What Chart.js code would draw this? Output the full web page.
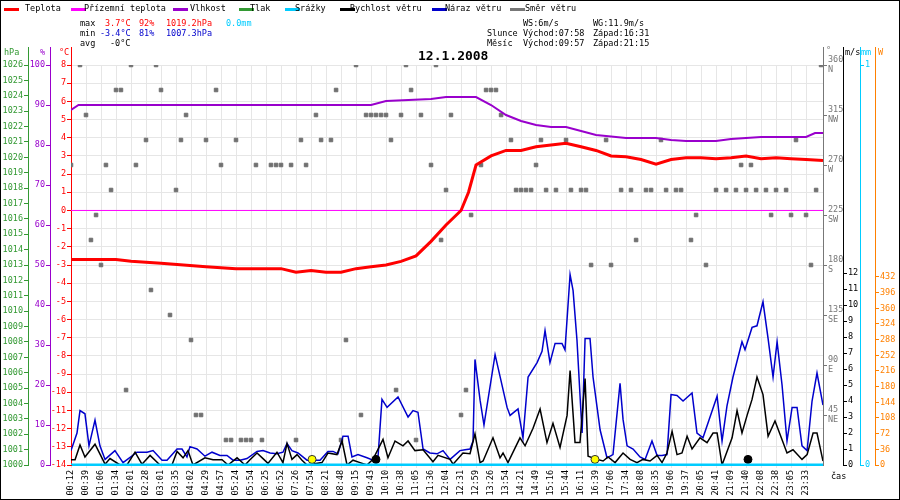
<!DOCTYPE html>
<html lang="cs">
<head>
<meta charset="UTF-8">
<title>12.1.2008</title>
<style>
  body { margin: 0; background: #fff; }
  canvas { display: block; }
</style>
</head>
<body>
<canvas id="chart" width="900" height="500"></canvas>
<script src="https://cdn.jsdelivr.net/npm/chart.js"></script>
<script>
// time labels under the x axis (one per sample slot)
const timeLabels = ["00:12","00:39","01:06","01:34","02:01","02:28","03:01","03:35","04:02","04:29",
  "04:57","05:24","05:54","06:25","06:52","07:26","07:54","08:21","08:48","09:15",
  "09:43","10:10","10:38","11:05","11:36","12:04","12:31","12:59","13:26","13:54",
  "14:21","14:49","15:16","15:44","16:11","16:39","17:06","17:34","18:08","18:35",
  "19:06","19:37","20:05","20:41","21:09","21:40","22:08","22:38","23:05","23:33"];
const lastSlot = 50.13;

// [slot, °C]
const temperature = [[0,-2.7],[3,-2.7],[4,-2.8],[5,-2.85],[6,-2.9],[9,-3.1],[11,-3.2],[14,-3.2],[15,-3.4],
  [16,-3.3],[17,-3.4],[18,-3.4],[19,-3.2],[20,-3.1],[21,-3.0],[22,-2.8],[23,-2.5],[24,-1.7],[25,-0.8],
  [26,0.0],[26.5,1.0],[27,2.5],[28,3.0],[29,3.3],[30,3.3],[31,3.5],[32,3.6],[33,3.7],[34,3.5],[35,3.3],
  [36,3.0],[37,2.95],[38,2.8],[39,2.55],[40,2.8],[41,2.9],[42,2.9],[43,2.85],[44,2.9],[45,3.0],[46,2.85],
  [47,2.9],[48,2.85],[49,2.8],[50.13,2.75]];
const apparentTemp = [[0,0],[50.13,0]];
// [slot, %]
const humidity = [[0,88.75],[0.5,90],[20,90],[21,91],[24,91.5],[25,92],[27,92],[28,90],[29,87.5],[30,86],
  [31,85],[32,84.5],[33,84.5],[34,83.5],[35,82.5],[37,81.75],[39,81.75],[40,81.25],[41,81],[43,81],
  [44,81.5],[46,82],[49,82],[49.6,83],[50.13,83]];
const precipitation = [[0,0],[50.13,0]];
// [slot, m/s]
const windSpeed = [[0,0.33],[0.27,0.33],[0.6,1.25],[0.93,0.5],[1.6,1.3],[2.27,0.05],[2.6,0.4],[3.27,0],[3.73,0],
  [4.27,0.8],[4.73,0.05],[5.27,0.6],[5.93,0],[6.73,0],[7.07,0.85],[7.47,0.45],[7.8,0.9],[8.13,0],[8.93,0.45],
  [9.47,0.33],[10.07,0.33],[10.47,0],[11.07,0.45],[11.6,0],[11.93,0.33],[12.4,0.75],[12.8,0.4],[13.13,0.1],
  [13.73,0.8],[14.13,0.15],[14.4,1.35],[14.73,0.35],[15.07,0.65],[15.4,0.3],[15.73,0],[16.73,0.15],[17.13,0.75],
  [17.73,0.65],[18.07,1.5],[18.4,0],[18.8,0.3],[19.27,0.15],[19.73,0],[20.13,0.35],[20.8,1.6],[21.13,0.45],
  [21.6,1.5],[22.13,1.2],[22.47,1.5],[22.93,0.9],[23.47,0.95],[24.13,0.2],[24.47,0.6],[25.27,0.35],[25.47,0.05],
  [26.13,0.75],[26.6,0.7],[26.93,1.95],[27.27,0.15],[27.47,0.25],[28.13,1.7],[28.6,0.45],[28.8,0.75],[29.13,0.15],
  [29.93,1.7],[30.27,1.2],[30.8,2.3],[31.27,3.5],[31.73,1.4],[32.13,2.6],[32.6,1.1],[33.07,3.1],[33.27,5.9],
  [33.6,1.4],[33.93,1.4],[34.27,5.4],[34.47,0.55],[35.07,0.35],[35.47,0.25],[35.8,0.5],[36.27,0.15],[36.8,0.75],
  [37.27,0.35],[37.73,0.15],[38.13,0.35],[38.6,0.25],[39.07,0.6],[39.4,0.15],[39.73,0.75],[40.07,2.1],[40.4,0.65],
  [40.73,0.75],[41.07,1.8],[41.4,1.0],[41.93,1.7],[42.4,1.4],[42.8,2.0],[43.07,2.0],[43.4,0],[44.07,1.7],
  [44.4,3.4],[44.73,2.0],[45.07,3.1],[45.4,4.1],[45.73,5.5],[46.13,4.4],[46.47,1.8],[46.93,2.75],[47.27,1.9],
  [47.73,0.75],[48.13,0.95],[48.73,0.35],[49.07,0.65],[49.47,2.0],[49.73,2.0],[50.13,0.25]];
const windGust = [[0,0.9],[0.4,2.0],[0.6,3.4],[0.93,3.2],[1.2,1.2],[1.6,2.8],[1.93,1.2],[2.27,0.35],[2.93,0.9],
  [3.47,0.15],[4.4,0.8],[5.07,0.8],[5.47,0.9],[6.07,0.3],[6.4,0.3],[7.07,1.0],[7.4,1.0],[7.73,0.5],[7.93,1.15],
  [8.4,1.0],[8.93,0.55],[9.4,0.8],[9.93,0.6],[10.4,0.6],[10.8,0.3],[11.27,0.3],[11.73,0.4],[12.4,0.85],[12.8,0.9],
  [13.27,0.75],[13.73,0.7],[14.13,0.8],[14.4,1.35],[14.73,0.9],[15.13,0.75],[15.73,0.3],[16.6,0.3],[17.13,0.85],
  [17.47,0.85],[17.8,0.7],[18.13,1.8],[18.47,1.8],[18.73,0.5],[19.13,0.65],[19.73,0.45],[20.13,0.3],[20.47,0.55],
  [20.73,4.1],[21.07,3.6],[21.8,4.25],[22.47,3.0],[22.8,3.4],[23.13,3.3],[23.47,1.0],[23.93,0.75],[24.4,0.7],
  [24.8,0.9],[25.27,0.35],[25.93,0.9],[26.27,0.95],[26.6,1.0],[26.8,1.5],[26.93,6.6],[27.27,4.05],[27.53,2.5],
  [28.27,6.9],[29.07,3.6],[29.27,3.1],[29.8,3.5],[30.13,1.7],[30.47,5.5],[31.07,6.4],[31.4,7.1],[31.6,8.4],
  [31.93,6.4],[32.27,7.6],[32.73,7.6],[32.93,7.2],[33.27,11.9],[33.47,10.9],[33.73,7.8],[34.07,2.0],[34.27,7.9],
  [34.6,7.9],[34.8,5.5],[35.07,3.6],[35.27,2.2],[35.73,0.45],[36.13,0.65],[36.6,5.1],[36.8,2.85],[37.07,1.2],
  [37.47,1.0],[37.93,0.5],[38.27,0.35],[38.73,1.5],[39.07,0.6],[39.4,0.6],[39.73,0.65],[40,4.4],[40.4,4.35],
  [40.8,4.0],[41.4,4.5],[41.73,2.0],[42.13,1.7],[43.07,4.3],[43.4,1.5],[43.73,3.7],[44.13,5.5],[44.73,7.7],
  [44.93,7.2],[45.4,8.6],[45.73,8.7],[46.13,10.2],[46.47,7.9],[46.8,5.5],[47.07,7.7],[47.4,5.0],[47.73,1.5],
  [48.07,3.6],[48.4,3.6],[48.73,1.2],[49.07,0.9],[49.4,4.0],[49.73,5.75],[50.13,3.75]];
// [slot, degrees]
const windDir = [[0,270],[0.6,360],[1,315],[1.33,202.5],[1.67,225],[2,180],[2.33,270],[2.67,247.5],[3,337.5],
  [3.33,337.5],[3.67,67.5],[4,360],[4.33,270],[5,292.5],[5.33,157.5],[5.67,360],[6,337.5],[6.6,135],[7,247.5],
  [7.33,292.5],[7.67,315],[8,112.5],[8.33,45],[8.67,45],[9,292.5],[9.67,337.5],[10,270],[10.33,22.5],[10.67,22.5],
  [11,292.5],[11.33,22.5],[11.67,22.5],[12,22.5],[12.33,270],[12.73,22.5],[13.33,270],[13.67,270],[14,270],
  [14.67,270],[15,22.5],[15.33,292.5],[15.67,270],[16.33,315],[16.67,292.5],[17.33,292.5],[17.67,337.5],[18,22.5],
  [18.33,112.5],[19,360],[19.33,45],[19.67,315],[20,315],[20.33,315],[20.67,315],[21,315],[21.33,292.5],
  [21.67,67.5],[22,315],[22.33,360],[22.67,337.5],[23,22.5],[23.33,315],[24,270],[24.33,360],[24.67,202.5],
  [25,247.5],[25.33,315],[26,45],[26.33,67.5],[26.67,225],[27.33,270],[27.67,337.5],[28,337.5],[28.33,337.5],
  [28.67,315],[29.33,292.5],[29.67,247.5],[30,247.5],[30.33,247.5],[30.67,247.5],[31,270],[31.33,292.5],
  [31.67,247.5],[32.33,247.5],[33,292.5],[33.33,247.5],[34,247.5],[34.33,247.5],[34.67,180],[35.67,292.5],
  [36,180],[36.67,247.5],[37.33,247.5],[37.67,202.5],[38.33,247.5],[38.67,247.5],[39.33,292.5],[39.67,247.5],
  [40.33,247.5],[40.67,247.5],[41.33,202.5],[41.67,225],[42.33,180],[43,247.5],[43.67,247.5],[44.33,247.5],
  [44.67,270],[45,247.5],[45.33,270],[45.67,247.5],[46.33,247.5],[46.67,225],[47,247.5],[47.67,247.5],[48,225],
  [48.33,292.5],[49,225],[49.33,180],[49.67,247.5],[50,360]];
// sunrise 07:58, sunset 16:31; moonrise 09:57, moonset 21:15
const sunMarks = [[16.07,0.35],[34.93,0.35]];
const moonMarks = [[20.33,0.35],[45.13,0.35]];

const FONT = { family: "'DejaVu Sans Mono', monospace", size: 8.5 };
const GRID = '#e6e6e6';
const xy = arr => arr.map(p => ({ x: p[0], y: p[1] }));
const fixW = w => (s => { s.width = w; });

function sideAxis(opts) {
  return Object.assign({
    type: 'linear',
    grid: { drawOnChartArea: false, tickLength: 4, color: opts.color },
    border: { color: opts.color, width: 1 },
    ticks: { color: opts.color, font: FONT, padding: 1, callback: v => String(v) },
    afterFit: fixW(opts.w)
  }, opts.extra);
}

const headerPlugin = {
  id: 'header',
  afterDraw(chart) {
    const c = chart.ctx;
    c.save();
    c.font = "8.5px 'DejaVu Sans Mono', monospace";
    c.textBaseline = 'middle';
    const legend = [
      ['Teplota', '#ff0000', 4, 25], ['Přízemní teplota', '#ff00ff', 71, 84], ['Vlhkost', '#9900cc', 173, 190],
      ['Tlak', '#339933', 239, 250], ['Srážky', '#00ccff', 285, 295], ['Rychlost větru', '#000000', 340, 350],
      ['Náraz větru', '#0000cc', 432, 445], ['Směr větru', '#777777', 510, 525]
    ];
    legend.forEach(([t, col, lx, tx]) => {
      c.fillStyle = col; c.fillRect(lx, 8, 15, 3);
      c.fillStyle = '#000'; c.fillText(t, tx, 9);
    });
    const txt = (s, x, y, col) => { c.fillStyle = col; c.fillText(s, x, y); };
    txt('max', 80, 24, '#000'); txt('3.7°C', 105, 24, '#ff0000'); txt('92%', 139, 24, '#ff0000');
    txt('1019.2hPa', 166, 24, '#ff0000'); txt('0.0mm', 226, 24, '#00ccff');
    txt('min', 80, 34, '#000'); txt('-3.4°C', 100, 34, '#0000cc'); txt('81%', 139, 34, '#0000cc');
    txt('1007.3hPa', 166, 34, '#0000cc');
    txt('avg', 80, 44, '#000'); txt('-0°C', 110, 44, '#000');
    txt('WS:6m/s', 523, 24, '#000'); txt('WG:11.9m/s', 593, 24, '#000');
    txt('Slunce', 487, 34, '#000'); txt('Východ:07:58', 523, 34, '#000'); txt('Západ:16:31', 593, 34, '#000');
    txt('Měsíc', 487, 44, '#000'); txt('Východ:09:57', 523, 44, '#000'); txt('Západ:21:15', 593, 44, '#000');
    txt('hPa', 4, 53, '#339933'); txt('%', 40, 53, '#9900cc'); txt('°C', 59, 53, '#ff0000');
    txt('°', 826, 51, '#777777'); txt('m/s', 845, 53, '#000'); txt('mm', 861, 53, '#00ccff'); txt('W', 878, 53, '#ff8000');
    txt('čas', 831, 477, '#000');
    c.font = "bold 13px 'DejaVu Sans Mono', monospace";
    txt('12.1.2008', 418, 57, '#000');
    // axis lines reaching up to the unit labels
    [['yP', '#339933'], ['yH', '#9900cc'], ['yT', '#ff0000'], ['yD', '#777777'], ['yW', '#000'], ['yR', '#00ccff'], ['yS', '#ff8000']]
      .forEach(([id, col]) => {
        const s = chart.scales[id];
        const x = Math.round(s.position === 'left' ? s.right : s.left) + 0.5;
        c.strokeStyle = col; c.lineWidth = 1;
        c.beginPath(); c.moveTo(x, 47); c.lineTo(x, chart.chartArea.top); c.stroke();
      });
    c.strokeStyle = '#000'; c.lineWidth = 1;
    c.strokeRect(0.5, 0.5, 899, 499);
    c.restore();
  }
};

new Chart(document.getElementById('chart'), {
  type: 'line',
  data: {
    datasets: [
      { label: 'Teplota', data: xy(temperature), borderColor: '#ff0000', borderWidth: 3, yAxisID: 'yT' },
      { label: 'Přízemní teplota', data: xy(apparentTemp), borderColor: '#ff00ff', borderWidth: 1, yAxisID: 'yT' },
      { label: 'Vlhkost', data: xy(humidity), borderColor: '#9900cc', borderWidth: 2, yAxisID: 'yH' },
      { label: 'Srážky', data: xy(precipitation), borderColor: '#00ccff', borderWidth: 3, yAxisID: 'yR' },
      { label: 'Slunce', data: xy(sunMarks), showLine: false, pointRadius: 4, pointBackgroundColor: '#ffff00',
        pointBorderColor: '#333', pointBorderWidth: 1, yAxisID: 'yW' },
      { label: 'Měsíc', data: xy(moonMarks), showLine: false, pointRadius: 4, pointBackgroundColor: '#000',
        pointBorderColor: '#000', yAxisID: 'yW' },
      { label: 'Rychlost větru', data: xy(windSpeed), borderColor: '#000000', borderWidth: 1.5, yAxisID: 'yW' },
      { label: 'Náraz větru', data: xy(windGust), borderColor: '#0000cc', borderWidth: 1.5, yAxisID: 'yW' },
      { label: 'Směr větru', data: xy(windDir), showLine: false, pointStyle: 'rect', pointRadius: 2.5,
        pointBackgroundColor: '#707070', pointBorderColor: '#707070', yAxisID: 'yD' }
    ]
  },
  options: {
    responsive: false,
    animation: false,
    layout: { padding: { top: 65, left: 0, right: 0, bottom: 0 } },
    elements: { point: { radius: 0 }, line: { tension: 0 } },
    plugins: { legend: { display: false }, tooltip: { enabled: false } },
    scales: {
      x: {
        type: 'linear', min: 0, max: lastSlot,
        afterBuildTicks: s => { s.ticks = timeLabels.map((_, i) => ({ value: i })); },
        ticks: { callback: (v, i) => timeLabels[i], minRotation: 90, maxRotation: 90, autoSkip: false,
          font: FONT, color: '#000', padding: 2 },
        grid: { color: GRID, tickLength: 3 },
        border: { color: '#00ccff' },
        afterFit: s => { s.height = 35; }
      },
      yT: sideAxis({ color: '#ff0000', w: 21, extra: { position: 'left', weight: 0, min: -14, max: 8,
        grid: { color: GRID, tickColor: '#ff0000', tickLength: 4 } } }),
      yH: sideAxis({ color: '#9900cc', w: 22, extra: { position: 'left', weight: 1, min: 0, max: 100 } }),
      yP: sideAxis({ color: '#339933', w: 28, extra: { position: 'left', weight: 2, min: 1000, max: 1026 } }),
      yD: sideAxis({ color: '#777777', w: 20, extra: { position: 'right', weight: 0, min: 0, max: 360,
        afterBuildTicks: s => { s.ticks = [45, 90, 135, 180, 225, 270, 315, 360].map(v => ({ value: v })); } } }),
      yW: sideAxis({ color: '#000000', w: 17, extra: { position: 'right', weight: 1, min: 0, max: 25,
        afterBuildTicks: s => { s.ticks = [0,1,2,3,4,5,6,7,8,9,10,11,12].map(v => ({ value: v })); } } }),
      yR: sideAxis({ color: '#00ccff', w: 15, extra: { position: 'right', weight: 2, min: 0, max: 1,
        afterBuildTicks: s => { s.ticks = [0, 1].map(v => ({ value: v })); } } }),
      yS: sideAxis({ color: '#ff8000', w: 25, extra: { position: 'right', weight: 3, min: 0, max: 919,
        afterBuildTicks: s => { s.ticks = [0,36,72,108,144,180,216,252,288,324,360,396,432].map(v => ({ value: v })); } } })
    }
  },
  plugins: [headerPlugin]
});

// stepSize / labels that sideAxis can't express generically
const ch = Chart.getChart('chart');
ch.options.scales.yT.ticks.stepSize = 1;
ch.options.scales.yH.ticks.stepSize = 10;
ch.options.scales.yP.ticks.stepSize = 1;
ch.options.scales.yD.ticks.callback = v => [String(v), { 45: 'NE', 90: 'E', 135: 'SE', 180: 'S', 225: 'SW', 270: 'W', 315: 'NW', 360: 'N' }[v]];
ch.update();
</script>
</body>
</html>
